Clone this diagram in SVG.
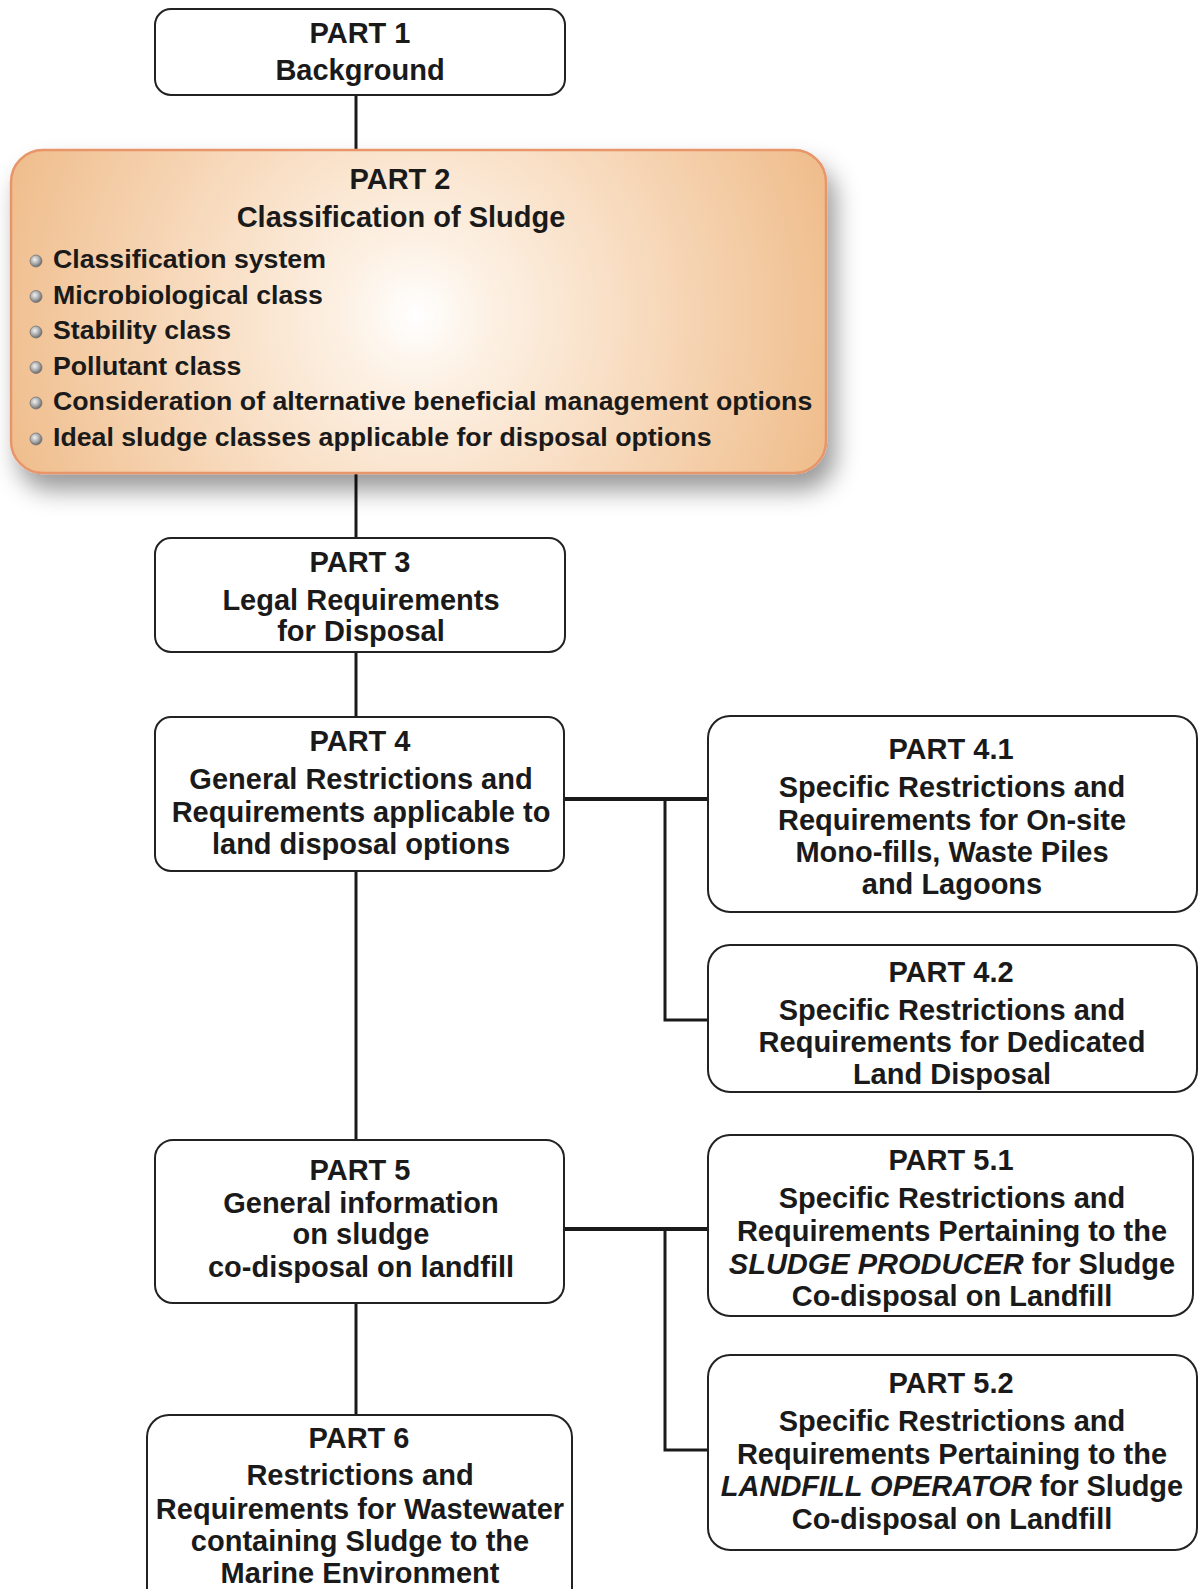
<svg xmlns="http://www.w3.org/2000/svg" width="1198" height="1589" viewBox="0 0 1198 1589">
<defs>
<radialGradient id="orange" gradientUnits="userSpaceOnUse" cx="416" cy="315" r="440">
<stop offset="0" stop-color="#ffffff"/>
<stop offset="0.15" stop-color="#fdf2e6"/>
<stop offset="0.5" stop-color="#f8dcc0"/>
<stop offset="1" stop-color="#efbc8a"/>
</radialGradient>
<radialGradient id="ball" cx="0.4" cy="0.38" r="0.62">
<stop offset="0" stop-color="#f2f2f2"/>
<stop offset="0.6" stop-color="#a8a8a8"/>
<stop offset="1" stop-color="#6a6a6a"/>
</radialGradient>
<filter id="shadow" x="-10%" y="-20%" width="130%" height="160%">
<feDropShadow dx="8" dy="16" stdDeviation="12" flood-color="#000" flood-opacity="0.4"/>
</filter>
</defs>
<style>
.box{fill:#fff;stroke:#222;stroke-width:2}
.t{font-family:"Liberation Sans",Arial,sans-serif;font-weight:bold;font-size:29px;fill:#1a1a1a;text-anchor:middle}
.b{font-family:"Liberation Sans",Arial,sans-serif;font-weight:bold;font-size:26.7px;fill:#1a1a1a}
.i{font-style:italic}
.c{fill:none;stroke:#1a1a1a;stroke-width:3}
.h{fill:none;stroke:#1a1a1a;stroke-width:4}
.dot{fill:url(#ball);stroke:#777;stroke-width:0.8}
</style>
<g id="connectors">
<line class="c" x1="356" y1="95" x2="356" y2="150"/>
<line class="c" x1="356" y1="473" x2="356" y2="538"/>
<line class="c" x1="356" y1="652" x2="356" y2="717"/>
<line class="c" x1="356" y1="871" x2="356" y2="1140"/>
<line class="c" x1="356" y1="1303" x2="356" y2="1415"/>
<line class="h" x1="564" y1="799" x2="708" y2="799"/>
<polyline class="c" points="665,799 665,1020 708,1020"/>
<line class="h" x1="564" y1="1229" x2="708" y2="1229"/>
<polyline class="c" points="665,1229 665,1450 708,1450"/>
</g>
<g id="part1">
<rect class="box" x="155" y="9" width="410" height="86" rx="16"/>
<text class="t" x="360" y="43">PART 1</text>
<text class="t" x="360" y="80">Background</text>
</g>
<g id="part2">
<rect x="11" y="150" width="815" height="323" rx="32" fill="url(#orange)" stroke="#e8956a" stroke-width="2.5" filter="url(#shadow)"/>
<text class="t" x="400" y="189">PART 2</text>
<text class="t" x="401" y="227">Classification of Sludge</text>
<circle class="dot" cx="36" cy="261" r="6"/>
<text class="b" x="53" y="268">Classification system</text>
<circle class="dot" cx="36" cy="296.5" r="6"/>
<text class="b" x="53" y="303.5">Microbiological class</text>
<circle class="dot" cx="36" cy="332" r="6"/>
<text class="b" x="53" y="339">Stability class</text>
<circle class="dot" cx="36" cy="367.5" r="6"/>
<text class="b" x="53" y="374.5">Pollutant class</text>
<circle class="dot" cx="36" cy="403" r="6"/>
<text class="b" x="53" y="410">Consideration of alternative beneficial management options</text>
<circle class="dot" cx="36" cy="439" r="6"/>
<text class="b" x="53" y="446">Ideal sludge classes applicable for disposal options</text>
</g>
<g id="part3">
<rect class="box" x="155" y="538" width="410" height="114" rx="16"/>
<text class="t" x="360" y="571.5">PART 3</text>
<text class="t" x="361" y="609.5">Legal Requirements</text>
<text class="t" x="361" y="641">for Disposal</text>
</g>
<g id="part4">
<rect class="box" x="155" y="717" width="409" height="154" rx="16"/>
<text class="t" x="360" y="751">PART 4</text>
<text class="t" x="361" y="789">General Restrictions and</text>
<text class="t" x="361" y="822">Requirements applicable to</text>
<text class="t" x="361" y="854">land disposal options</text>
</g>
<g id="part4_1">
<rect class="box" x="708" y="716" width="489" height="196" rx="22"/>
<text class="t" x="951" y="759">PART 4.1</text>
<text class="t" x="952" y="797">Specific Restrictions and</text>
<text class="t" x="952" y="829.5">Requirements for On-site</text>
<text class="t" x="952" y="862">Mono-fills, Waste Piles</text>
<text class="t" x="952" y="893.5">and Lagoons</text>
</g>
<g id="part4_2">
<rect class="box" x="708" y="945" width="489" height="147" rx="22"/>
<text class="t" x="951" y="982">PART 4.2</text>
<text class="t" x="952" y="1020">Specific Restrictions and</text>
<text class="t" x="952" y="1052">Requirements for Dedicated</text>
<text class="t" x="952" y="1084">Land Disposal</text>
</g>
<g id="part5">
<rect class="box" x="155" y="1140" width="409" height="163" rx="18"/>
<text class="t" x="360" y="1180">PART 5</text>
<text class="t" x="361" y="1212.5">General information</text>
<text class="t" x="361" y="1244">on sludge</text>
<text class="t" x="361" y="1277">co-disposal on landfill</text>
</g>
<g id="part5_1">
<rect class="box" x="708" y="1135" width="485" height="181" rx="22"/>
<text class="t" x="951" y="1170">PART 5.1</text>
<text class="t" x="952" y="1208">Specific Restrictions and</text>
<text class="t" x="952" y="1241">Requirements Pertaining to the</text>
<text class="t" x="952" y="1273.5"><tspan class="i">SLUDGE PRODUCER</tspan> for Sludge</text>
<text class="t" x="952" y="1306">Co-disposal on Landfill</text>
</g>
<g id="part5_2">
<rect class="box" x="708" y="1355" width="489" height="195" rx="22"/>
<text class="t" x="951" y="1393">PART 5.2</text>
<text class="t" x="952" y="1431">Specific Restrictions and</text>
<text class="t" x="952" y="1464">Requirements Pertaining to the</text>
<text class="t" x="952" y="1496"><tspan class="i">LANDFILL OPERATOR</tspan> for Sludge</text>
<text class="t" x="952" y="1529">Co-disposal on Landfill</text>
</g>
<g id="part6">
<rect class="box" x="147" y="1415" width="425" height="200" rx="22"/>
<text class="t" x="359" y="1448">PART 6</text>
<text class="t" x="360" y="1485">Restrictions and</text>
<text class="t" x="360" y="1518.5">Requirements for Wastewater</text>
<text class="t" x="360" y="1550.5">containing Sludge to the</text>
<text class="t" x="360" y="1583">Marine Environment</text>
</g>
</svg>
